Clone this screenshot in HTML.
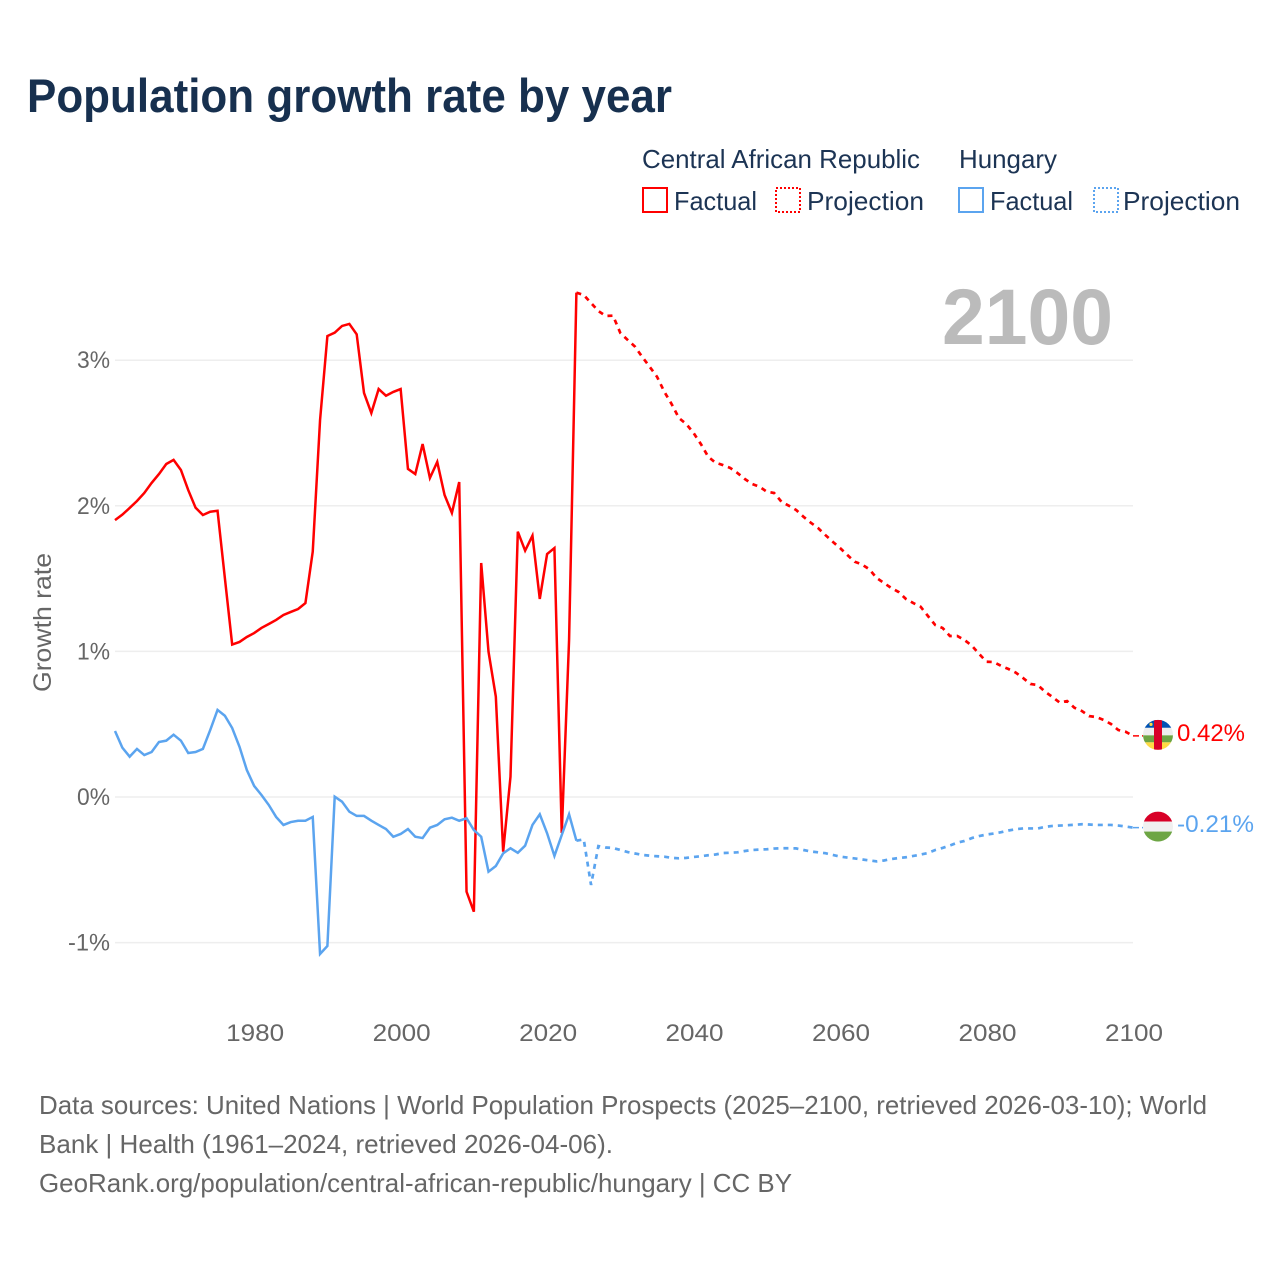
<!DOCTYPE html>
<html lang="en">
<head>
<meta charset="utf-8">
<title>Population growth rate by year</title>
<style>
html,body{margin:0;padding:0;background:#fff;width:1280px;height:1280px;overflow:hidden}
svg{display:block;font-family:"Liberation Sans",sans-serif}
</style>
</head>
<body>
<svg id="chart" xmlns="http://www.w3.org/2000/svg" width="1280" height="1280" viewBox="0 0 1280 1280">
  <rect x="0" y="0" width="1280" height="1280" fill="#fff"/>
  <text x="27" y="112" font-size="47" font-weight="700" fill="#17304f" textLength="645" lengthAdjust="spacingAndGlyphs">Population growth rate by year</text>

  <g font-size="26" fill="#1c3454">
    <text x="642" y="168" textLength="278" lengthAdjust="spacingAndGlyphs">Central African Republic</text>
    <text x="959" y="168" textLength="98" lengthAdjust="spacingAndGlyphs">Hungary</text>
    <g>
      <rect x="643" y="188" width="24" height="24" fill="none" stroke="#ff0000" stroke-width="2"/>
      <text x="674" y="210" textLength="83" lengthAdjust="spacingAndGlyphs">Factual</text>
    </g>
    <g>
      <rect x="776" y="188" width="24" height="24" fill="none" stroke="#ff0000" stroke-width="2" stroke-dasharray="2 2"/>
      <text x="807" y="210" textLength="117" lengthAdjust="spacingAndGlyphs">Projection</text>
    </g>
    <g>
      <rect x="959" y="188" width="24" height="24" fill="none" stroke="#5ba4ef" stroke-width="2"/>
      <text x="990" y="210" textLength="83" lengthAdjust="spacingAndGlyphs">Factual</text>
    </g>
    <g>
      <rect x="1094" y="188" width="24" height="24" fill="none" stroke="#5ba4ef" stroke-width="2" stroke-dasharray="2 2"/>
      <text x="1123" y="210" textLength="117" lengthAdjust="spacingAndGlyphs">Projection</text>
    </g>
  </g>

  <text x="942" y="344" font-size="79" font-weight="700" fill="#bbbbbb" textLength="171" lengthAdjust="spacingAndGlyphs">2100</text>

  <g id="grid"></g>
  <g id="yticks" font-size="24" fill="#666666" text-anchor="end"></g>
  <g id="xticks" font-size="24" fill="#666666" text-anchor="middle"></g>
  <text transform="translate(51 622.5) rotate(-90)" text-anchor="middle" font-size="25" fill="#666666" textLength="139" lengthAdjust="spacingAndGlyphs">Growth rate</text>
  <g id="series"></g>

  <defs>
    <clipPath id="car-clip"><circle cx="0" cy="0" r="15"/></clipPath>
    <clipPath id="hun-clip"><circle cx="0" cy="0" r="15"/></clipPath>
  </defs>
  <g id="flag-car" clip-path="url(#car-clip)">
    <rect x="-15" y="-15" width="30" height="8" fill="#0052b4"/>
    <rect x="-15" y="-7" width="30" height="7.5" fill="#eeeeee"/>
    <rect x="-15" y="0.5" width="30" height="7" fill="#6da544"/>
    <rect x="-15" y="7.5" width="30" height="7.5" fill="#ffda44"/>
    <rect x="-4" y="-15" width="8" height="30" fill="#d80027"/>
    <circle cx="-7" cy="-10.5" r="1.6" fill="#ffda44"/>
  </g>
  <g id="flag-hun" clip-path="url(#hun-clip)">
    <rect x="-15" y="-15" width="30" height="10" fill="#d80027"/>
    <rect x="-15" y="-5" width="30" height="10" fill="#f0f0f0"/>
    <rect x="-15" y="5" width="30" height="10" fill="#6da544"/>
  </g>
  <text id="label-car" x="1177" font-size="24" fill="#ff0000" textLength="68" lengthAdjust="spacingAndGlyphs"></text>
  <text id="label-hun" x="1177" font-size="24" fill="#5ba4ef" textLength="77" lengthAdjust="spacingAndGlyphs"></text>

  <g font-size="26" fill="#666666">
    <text x="39" y="1114" textLength="1168" lengthAdjust="spacingAndGlyphs">Data sources: United Nations | World Population Prospects (2025–2100, retrieved 2026-03-10); World</text>
    <text x="39" y="1153" textLength="574" lengthAdjust="spacingAndGlyphs">Bank | Health (1961–2024, retrieved 2026-04-06).</text>
    <text x="39" y="1192" textLength="753" lengthAdjust="spacingAndGlyphs">GeoRank.org/population/central-african-republic/hungary | CC BY</text>
  </g>
</svg>
<script>
const factualStartYear = 1961;
const projectionStartYear = 2024;
const xTickLabels = [1980, 2000, 2020, 2040, 2060, 2080, 2100];
const yTickLabels = [3, 2, 1, 0, -1];
const carEndLabel = "0.42%";
const hungaryEndLabel = "-0.21%";

const carFactual = [1.902,1.939,1.985,2.033,2.088,2.157,2.218,2.287,2.315,2.246,2.108,1.987,1.937,1.959,1.966,1.504,1.047,1.065,1.099,1.126,1.161,1.188,1.216,1.25,1.271,1.291,1.332,1.685,2.589,3.166,3.189,3.235,3.249,3.178,2.775,2.637,2.802,2.756,2.782,2.802,2.253,2.218,2.424,2.191,2.301,2.074,1.951,2.163,-0.65,-0.788,1.607,0.998,0.689,-0.376,0.139,1.822,1.692,1.795,1.36,1.669,1.71,-0.247,1.078,3.464];

const carProjection = [3.464,3.448,3.393,3.338,3.304,3.306,3.187,3.139,3.093,3.022,2.955,2.887,2.784,2.699,2.603,2.562,2.5,2.424,2.337,2.296,2.28,2.26,2.225,2.184,2.15,2.131,2.097,2.088,2.028,2.001,1.971,1.925,1.884,1.847,1.799,1.753,1.71,1.662,1.616,1.597,1.564,1.504,1.47,1.435,1.408,1.36,1.332,1.307,1.243,1.181,1.161,1.106,1.106,1.078,1.039,0.982,0.929,0.927,0.9,0.879,0.854,0.817,0.776,0.769,0.723,0.687,0.648,0.659,0.613,0.591,0.556,0.549,0.529,0.501,0.46,0.448,0.42];

const hungaryFactual = [0.453,0.339,0.277,0.33,0.288,0.309,0.378,0.387,0.428,0.387,0.302,0.309,0.33,0.46,0.598,0.558,0.474,0.345,0.185,0.076,0.014,-0.055,-0.137,-0.192,-0.172,-0.163,-0.163,-0.137,-1.078,-1.023,0.002,-0.032,-0.101,-0.13,-0.13,-0.163,-0.192,-0.22,-0.273,-0.254,-0.22,-0.273,-0.282,-0.211,-0.192,-0.153,-0.142,-0.163,-0.146,-0.227,-0.273,-0.513,-0.474,-0.387,-0.352,-0.383,-0.334,-0.192,-0.119,-0.249,-0.405,-0.261,-0.119,-0.3];

const hungaryProjection = [-0.3,-0.291,-0.604,-0.337,-0.347,-0.35,-0.364,-0.378,-0.388,-0.398,-0.403,-0.407,-0.41,-0.418,-0.421,-0.418,-0.412,-0.407,-0.4,-0.395,-0.385,-0.383,-0.38,-0.371,-0.364,-0.361,-0.359,-0.354,-0.352,-0.352,-0.353,-0.364,-0.374,-0.38,-0.386,-0.398,-0.409,-0.416,-0.422,-0.429,-0.436,-0.442,-0.436,-0.426,-0.419,-0.414,-0.405,-0.395,-0.385,-0.364,-0.35,-0.333,-0.314,-0.302,-0.282,-0.268,-0.258,-0.251,-0.242,-0.23,-0.221,-0.216,-0.216,-0.216,-0.205,-0.199,-0.196,-0.194,-0.191,-0.187,-0.189,-0.192,-0.192,-0.192,-0.196,-0.203,-0.21];

const SVG_NS = "http://www.w3.org/2000/svg";
const PLOT_LEFT = 115;
const PLOT_RIGHT = 1133;

function xScale(year) {
  return 115 + (year - 1961) * (1018 / 139);
}
function yScale(value) {
  return 797 - value * 145.6;
}
function linePoints(values, startYear) {
  return values.map(function (v, i) {
    return xScale(startYear + i).toFixed(2) + "," + yScale(v).toFixed(2);
  }).join(" ");
}

const gridLayer = document.getElementById("grid");
const yTickLayer = document.getElementById("yticks");
const xTickLayer = document.getElementById("xticks");
const seriesLayer = document.getElementById("series");

yTickLabels.forEach(function (tick) {
  const line = document.createElementNS(SVG_NS, "line");
  
  
  line.setAttribute("x1", PLOT_LEFT);
  line.setAttribute("x2", PLOT_RIGHT);
  line.setAttribute("y1", yScale(tick));
  line.setAttribute("y2", yScale(tick));
  line.setAttribute("stroke", "#eeeeee");
  line.setAttribute("stroke-width", "1.5");
  gridLayer.appendChild(line);

  const label = document.createElementNS(SVG_NS, "text");
  
  
  label.setAttribute("x", 110);
  label.setAttribute("y", yScale(tick) + 8);
  label.setAttribute("textLength", tick < 0 ? "42" : "33");
  label.setAttribute("lengthAdjust", "spacingAndGlyphs");
  label.textContent = tick + "%";
  yTickLayer.appendChild(label);
});

xTickLabels.forEach(function (tick) {
  const label = document.createElementNS(SVG_NS, "text");
  
  
  label.setAttribute("x", xScale(tick) + 1);
  label.setAttribute("y", 1041);
  label.setAttribute("textLength", "58");
  label.setAttribute("lengthAdjust", "spacingAndGlyphs");
  label.textContent = tick;
  xTickLayer.appendChild(label);
});

const carFactualLine = document.createElementNS(SVG_NS, "polyline");


carFactualLine.setAttribute("points", linePoints(carFactual, factualStartYear));
carFactualLine.setAttribute("fill", "none");
carFactualLine.setAttribute("stroke", "#ff0000");
carFactualLine.setAttribute("stroke-width", "2.5");
seriesLayer.appendChild(carFactualLine);

const hungaryFactualLine = document.createElementNS(SVG_NS, "polyline");


hungaryFactualLine.setAttribute("points", linePoints(hungaryFactual, factualStartYear));
hungaryFactualLine.setAttribute("fill", "none");
hungaryFactualLine.setAttribute("stroke", "#5ba4ef");
hungaryFactualLine.setAttribute("stroke-width", "2.5");
seriesLayer.appendChild(hungaryFactualLine);

const carProjectionLine = document.createElementNS(SVG_NS, "polyline");


carProjectionLine.setAttribute("points", linePoints(carProjection, projectionStartYear));
carProjectionLine.setAttribute("fill", "none");
carProjectionLine.setAttribute("stroke", "#ff0000");
carProjectionLine.setAttribute("stroke-width", "2.7");
carProjectionLine.setAttribute("stroke-dasharray", "5 5");
seriesLayer.appendChild(carProjectionLine);

const hungaryProjectionLine = document.createElementNS(SVG_NS, "polyline");


hungaryProjectionLine.setAttribute("points", linePoints(hungaryProjection, projectionStartYear));
hungaryProjectionLine.setAttribute("fill", "none");
hungaryProjectionLine.setAttribute("stroke", "#5ba4ef");
hungaryProjectionLine.setAttribute("stroke-width", "2.7");
hungaryProjectionLine.setAttribute("stroke-dasharray", "5 5");
seriesLayer.appendChild(hungaryProjectionLine);

const carEndY = yScale(carProjection[carProjection.length - 1]);
const hungaryEndY = yScale(hungaryProjection[hungaryProjection.length - 1]);

const carLeader = document.createElementNS(SVG_NS, "line");


carLeader.setAttribute("x1", PLOT_RIGHT);
carLeader.setAttribute("x2", 1143);
carLeader.setAttribute("y1", carEndY);
carLeader.setAttribute("y2", carEndY);
carLeader.setAttribute("stroke", "#ff0000");
carLeader.setAttribute("stroke-width", "1.5");
carLeader.setAttribute("stroke-dasharray", "6 3");
seriesLayer.appendChild(carLeader);

const hungaryLeader = document.createElementNS(SVG_NS, "line");


hungaryLeader.setAttribute("x1", PLOT_RIGHT);
hungaryLeader.setAttribute("x2", 1143);
hungaryLeader.setAttribute("y1", hungaryEndY);
hungaryLeader.setAttribute("y2", hungaryEndY);
hungaryLeader.setAttribute("stroke", "#5ba4ef");
hungaryLeader.setAttribute("stroke-width", "1.5");
hungaryLeader.setAttribute("stroke-dasharray", "6 3");
seriesLayer.appendChild(hungaryLeader);

document.getElementById("flag-car").setAttribute("transform", "translate(1158 " + (carEndY - 1) + ")");
document.getElementById("flag-hun").setAttribute("transform", "translate(1158 " + (hungaryEndY - 1) + ")");

const carLabel = document.getElementById("label-car");
carLabel.setAttribute("y", carEndY + 5);
carLabel.textContent = carEndLabel;
const hungaryLabel = document.getElementById("label-hun");
hungaryLabel.setAttribute("y", hungaryEndY + 4.5);
hungaryLabel.textContent = hungaryEndLabel;
</script>
</body>
</html>
